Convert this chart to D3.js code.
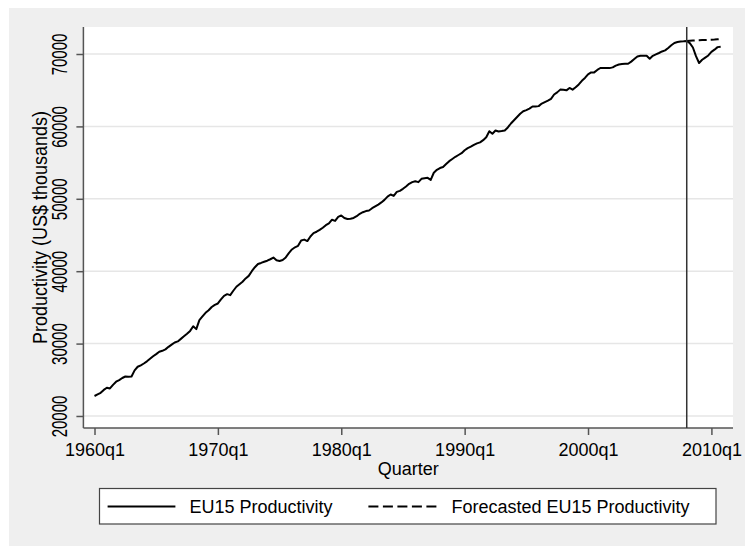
<!DOCTYPE html>
<html>
<head>
<meta charset="utf-8">
<script src="https://d3js.org/d3.v7.min.js"></script>
<style>
	body { margin: 0; background: #fff; }
	svg text { font-family: 'Liberation Sans', Arial, sans-serif; fill: #000; }
</style>
</head>
<body>
<div id="chart"></div>
<script>
// EU15 productivity, quarterly, starting 1960q1 (US$)
var productivity = [
	22760, 22980, 23200, 23600, 23900, 23800, 24300, 24730, 24960, 25250,
	25450, 25420, 25450, 26300, 26800, 27000, 27250, 27550, 27900, 28250,
	28550, 28870, 29000, 29200, 29550, 29850, 30150, 30300, 30650, 31000,
	31350, 31750, 32400, 32000, 33240, 33750, 34250, 34600, 35050, 35350,
	35540, 36100, 36600, 36830, 36690, 37300, 37850, 38200, 38550, 39000,
	39350, 40000, 40550, 41000, 41140, 41300, 41450, 41650, 41880, 41510,
	41410, 41550, 41900, 42500, 43000, 43300, 43500, 44250, 44360, 44160,
	44800, 45250, 45450, 45700, 46000, 46350, 46600, 47110, 46950, 47500,
	47700, 47350, 47200, 47250, 47350, 47600, 47930, 48150, 48300, 48390,
	48700, 48950, 49200, 49500, 49850, 50300, 50590, 50400, 50950, 51100,
	51380, 51700, 52070, 52300, 52430, 52300, 52760, 52850, 52900, 52620,
	53600, 54000, 54250, 54400, 54800, 55200, 55500, 55800, 56050, 56300,
	56700, 57000, 57200, 57450, 57650, 57800, 58100, 58500, 59340, 58980,
	59430, 59300, 59350, 59430, 59850, 60400, 60850, 61300, 61750, 62100,
	62250, 62450, 62750, 62750, 62800, 63150, 63350, 63550, 63800, 64400,
	64700, 65080, 65050, 64980, 65310, 65080, 65400, 65800, 66300, 66690,
	67200, 67460, 67460, 67800, 68070, 68070, 68070, 68050, 68150, 68400,
	68550, 68620, 68640, 68660, 68950, 69300, 69650, 69770, 69770, 69770,
	69350, 69750, 69950, 70140, 70350, 70500, 70830, 71200, 71520, 71650,
	71740, 71750, 71800, 71500, 70900, 69700, 68760, 69200, 69500, 69800,
	70300, 70600, 70950, 71000
];

// forecast, starting 2008q1
var forecastStart = 192;
var forecast = [71800, 71830, 71860, 71880, 71900, 71920, 71940, 71960, 71980, 72000, 72030, 72060];

var xTicks = [0, 40, 80, 120, 160, 200];
var xTickLabels = ['1960q1', '1970q1', '1980q1', '1990q1', '2000q1', '2010q1'];
var yTicks = [20000, 30000, 40000, 50000, 60000, 70000];
var seriesNames = ['EU15 Productivity', 'Forecasted EU15 Productivity'];

var width = 745, height = 546;
var plot = {left: 83.4, right: 733, top: 27, bottom: 428};

var svg = d3.select('#chart').append('svg')
	.attr('width', width)
	.attr('height', height);

// graph region
svg.append('rect')
	.attr('x', 9).attr('y', 8)
	.attr('width', width - 9).attr('height', height - 8)
	.attr('fill', '#efefef');

svg.append('rect')
	.attr('x', plot.left).attr('y', plot.top)
	.attr('width', plot.right - plot.left).attr('height', plot.bottom - plot.top)
	.attr('fill', '#fff');

var x = d3.scaleLinear().domain([-3.6, 207]).range([plot.left, plot.right]);
var y = d3.scaleLinear().domain([18340, 73730]).range([plot.bottom, plot.top]);

// grid
svg.append('g').selectAll('line')
	.data(yTicks)
	.enter()
	.append('line')
	.attr('x1', plot.left).attr('x2', plot.right)
	.attr('y1', function(d) { return y(d); })
	.attr('y2', function(d) { return y(d); })
	.attr('stroke', '#e6e6e6')
	.attr('stroke-width', 1.5);

// axes
var yAxis = svg.append('g')
	.attr('transform', 'translate(' + plot.left + ',0)')
	.call(d3.axisLeft(y).tickValues(yTicks).tickSize(7).tickPadding(0).tickFormat(d3.format('d')));

yAxis.selectAll('text')
	.attr('x', null).attr('dy', null)
	.attr('text-anchor', 'middle')
	.style('font-size', '15px')
	.attr('transform', 'translate(-16.8,0) rotate(-90) scale(1,1.5)');

var xAxis = svg.append('g')
	.attr('transform', 'translate(0,' + plot.bottom + ')')
	.call(d3.axisBottom(x).tickValues(xTicks).tickSize(7).tickFormat(function(d, i) { return xTickLabels[i]; }));

xAxis.selectAll('text')
	.attr('dy', null)
	.attr('y', 27.5)
	.style('font-size', '18px');

svg.selectAll('.domain, .tick line')
	.attr('stroke', '#555')
	.attr('stroke-width', 1.5);
svg.selectAll('.domain').attr('d', null);
yAxis.append('line')
	.attr('x1', 0).attr('x2', 0).attr('y1', plot.top).attr('y2', plot.bottom)
	.attr('stroke', '#555').attr('stroke-width', 1.5);
xAxis.append('line')
	.attr('x1', plot.left).attr('x2', plot.right).attr('y1', 0).attr('y2', 0)
	.attr('stroke', '#555').attr('stroke-width', 1.5);

// axis titles
svg.append('text')
	.attr('x', (plot.left + plot.right) / 2)
	.attr('y', 475)
	.attr('text-anchor', 'middle')
	.style('font-size', '18px')
	.text('Quarter');

svg.append('text')
	.attr('transform', 'translate(46.5,' + (plot.top + plot.bottom) / 2 + ') rotate(-90) scale(1,1.15)')
	.attr('text-anchor', 'middle')
	.style('font-size', '18px')
	.text('Productivity (US$ thousands)');

// lines
var line = d3.line()
	.x(function(d) { return x(d.q); })
	.y(function(d) { return y(d.v); });

var actual = productivity.map(function(v, i) { return {q: i, v: v}; });
var predicted = forecast.map(function(v, i) { return {q: forecastStart + i, v: v}; });

svg.append('path')
	.datum(actual)
	.attr('d', line)
	.attr('fill', 'none')
	.attr('stroke', '#000')
	.attr('stroke-width', 2)
	.attr('stroke-linejoin', 'round');

svg.append('path')
	.datum(predicted)
	.attr('d', line)
	.attr('fill', 'none')
	.attr('stroke', '#000')
	.attr('stroke-width', 2)
	.attr('stroke-dasharray', '8,4');

// crisis marker at 2008q1
svg.append('line')
	.attr('x1', x(forecastStart)).attr('x2', x(forecastStart))
	.attr('y1', plot.top).attr('y2', plot.bottom)
	.attr('stroke', '#333')
	.attr('stroke-width', 1.5);

// legend
var legend = svg.append('g');
legend.append('rect')
	.attr('x', 99.5).attr('y', 488.5)
	.attr('width', 616.5).attr('height', 35.5)
	.attr('fill', '#fff')
	.attr('stroke', '#444')
	.attr('stroke-width', 1.2);

var legendItems = [
	{x1: 107.6, x2: 175.4, tx: 189.4, dash: null},
	{x1: 368.4, x2: 440.5, tx: 451.5, dash: '10,4.5'}
];

legendItems.forEach(function(d, i) {
	legend.append('line')
		.attr('x1', d.x1).attr('x2', d.x2)
		.attr('y1', 506.5).attr('y2', 506.5)
		.attr('stroke', '#000')
		.attr('stroke-width', 2)
		.attr('stroke-dasharray', d.dash);
	legend.append('text')
		.attr('x', d.tx).attr('y', 513)
		.style('font-size', '18px')
		.text(seriesNames[i]);
});
</script>
</body>
</html>
